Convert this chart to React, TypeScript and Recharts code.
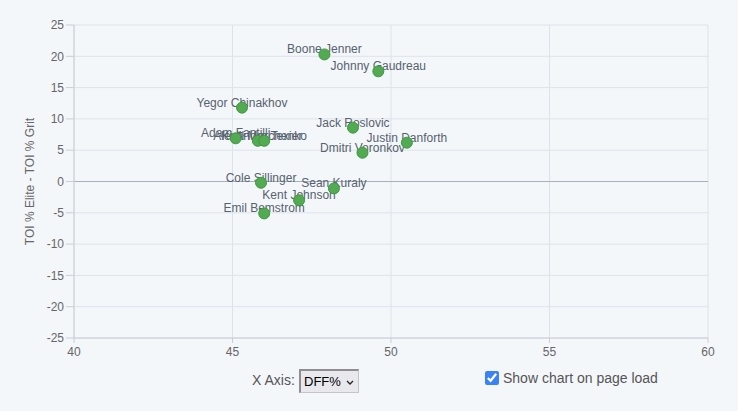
import { ScatterChart, Scatter, XAxis, YAxis, CartesianGrid, ReferenceLine } from "recharts";

const PLAYERS = [
  "Boone Jenner", "Johnny Gaudreau", "Yegor Chinakhov", "Jack Roslovic", "Justin Danforth",
  "Dmitri Voronkov", "Adam Fantilli", "Alexandre Texier", "Kirill Marchenko",
  "Cole Sillinger", "Sean Kuraly", "Kent Johnson", "Emil Bemstrom",
];
const DFF_PCT = [47.9, 49.6, 45.3, 48.8, 50.5, 49.1, 45.1, 45.8, 46.0, 45.9, 48.2, 47.1, 46.0];
const TOI_DIFF = [20.3, 17.6, 11.8, 8.6, 6.2, 4.6, 6.9, 6.5, 6.5, -0.2, -1.1, -3.0, -5.1];
const X_TICKS = [40, 45, 50, 55, 60];
const Y_TICKS = [-25, -20, -15, -10, -5, 0, 5, 10, 15, 20, 25];

const points = PLAYERS.map((name, i) => ({ name, x: DFF_PCT[i], y: TOI_DIFF[i] }));

const FONT = "'Liberation Sans', Arial, Helvetica, sans-serif";

// labels go underneath the dots, like the original
const PlayerLabel = (props: any) => {
  const { cx, cy, payload } = props;
  return (
    <text x={cx} y={cy - 1} textAnchor="middle" fontSize={12} fill="#56626e" fontFamily={FONT}>
      {payload.name}
    </text>
  );
};

const PlayerDot = (props: any) => {
  const { cx, cy } = props;
  return <circle cx={cx} cy={cy} r={5.5} fill="#52aa52" stroke="#3f983f" strokeWidth={1} />;
};

export default function App() {
  return (
    <div style={{ position: "absolute", left: 0, top: 0, width: 738, height: 411, background: "#f4f7fa", fontFamily: FONT }}>
      <ScatterChart width={738} height={365} margin={{ top: 25, right: 30, left: 14, bottom: 0 }}>
        <CartesianGrid stroke="#dde3e9" />
        <XAxis
          type="number" dataKey="x" domain={[40, 60]} ticks={X_TICKS} height={27}
          axisLine={{ stroke: "#c9ced4" }} tickLine={{ stroke: "#c9ced4" }} tickSize={5} tickMargin={4}
          tick={{ fill: "#666", fontSize: 12, fontFamily: FONT }}
        />
        <YAxis
          type="number" dataKey="y" domain={[-25, 25]} ticks={Y_TICKS} width={60}
          axisLine={{ stroke: "#c9ced4" }} tickLine={{ stroke: "#c9ced4" }} tickSize={8} tickMargin={2}
          tick={{ fill: "#666", fontSize: 12, fontFamily: FONT }}
          label={{ value: "TOI % Elite - TOI % Grit", angle: -90, position: "insideLeft", offset: 16, style: { fill: "#666", fontSize: 12, fontFamily: FONT, textAnchor: "middle" } }}
        />
        <ReferenceLine y={0} stroke="#a9b0b7" />
        <Scatter data={points} shape={PlayerLabel} isAnimationActive={false} />
        <Scatter data={points} shape={PlayerDot} isAnimationActive={false} />
      </ScatterChart>
      <span style={{ position: "absolute", left: 252, top: 372, fontSize: 14, color: "#555" }}>X Axis:</span>
      <div style={{ position: "absolute", left: 299, top: 369, width: 60, height: 24, boxSizing: "border-box", background: "#e9e9ed", border: "1px solid #c4c4c8", borderLeft: "2px solid #8f8f93", borderTop: "2px solid #8f8f93" }}>
        <span style={{ position: "absolute", left: 3, top: 3, fontSize: 13, color: "#000", whiteSpace: "nowrap" }}>DFF%</span>
        <svg style={{ position: "absolute", left: 45, top: 9 }} width={8} height={5} viewBox="0 0 8 5"><path d="M1 1 L4 4 L7 1" fill="none" stroke="#222" strokeWidth={1.3} /></svg>
      </div>
      <label style={{ position: "absolute", left: 485, top: 370, display: "flex", alignItems: "center", gap: 4, fontSize: 14, color: "#555" }}>
        <input type="checkbox" checked readOnly style={{ margin: 0, width: 14, height: 14, accentColor: "#3b82f6" }} />
        <span>Show chart on page load</span>
      </label>
    </div>
  );
}
